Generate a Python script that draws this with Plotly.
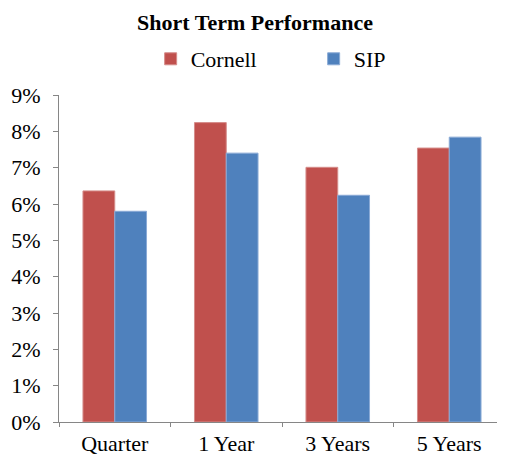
import plotly.graph_objects as go

categories = ["Quarter", "1 Year", "3 Years", "5 Years"]
cornell = [0.0636, 0.0824, 0.0701, 0.0754]
sip = [0.0580, 0.0740, 0.0624, 0.0784]

font = "Liberation Serif"

# page body has an 8px margin, so the figure is a bit smaller and shifted
W, H = 497, 449

fig = go.Figure()
fig.add_trace(go.Bar(x=categories, y=cornell, name="Cornell",
                     marker=dict(color="#C0504D",
                                 line=dict(width=1, color="#D58C8A"))))
fig.add_trace(go.Bar(x=categories, y=sip, name="SIP",
                     marker=dict(color="#4F81BD",
                                 line=dict(width=1, color="#8AAAD6"))))

fig.update_layout(
    width=W, height=H,
    margin=dict(l=51, r=0, t=87, b=35),
    paper_bgcolor="white", plot_bgcolor="white",
    font=dict(family=font, size=22, color="black"),
    title=dict(text="<b>Short Term Performance</b>", x=0.497, xref="container",
               y=1 - 14 / H, yanchor="middle",
               font=dict(family=font, size=22)),
    barmode="group", bargap=0.43, bargroupgap=0,
    showlegend=True,
    legend=dict(orientation="h", x=0.615, xref="container", xanchor="center",
                y=1 - 51 / H, yref="container", yanchor="middle",
                entrywidth=118, entrywidthmode="pixels",
                font=dict(family=font, size=22), itemwidth=30),
    xaxis=dict(showline=True, linecolor="#868686", linewidth=1,
               ticks="outside", tickson="boundaries", ticklen=4,
               tickcolor="#868686", showgrid=False, automargin=False,
               ticklabelstandoff=2,
               tickfont=dict(family=font, size=22)),
    yaxis=dict(range=[0, 0.09], dtick=0.01, tickformat=".0%",
               showline=True, linecolor="#868686", linewidth=1,
               ticks="outside", ticklen=5, tickcolor="#868686",
               showgrid=False, zeroline=False, automargin=False,
               ticklabelstandoff=8,
               tickfont=dict(family=font, size=22)),
)

fig.write_html("out.html")
